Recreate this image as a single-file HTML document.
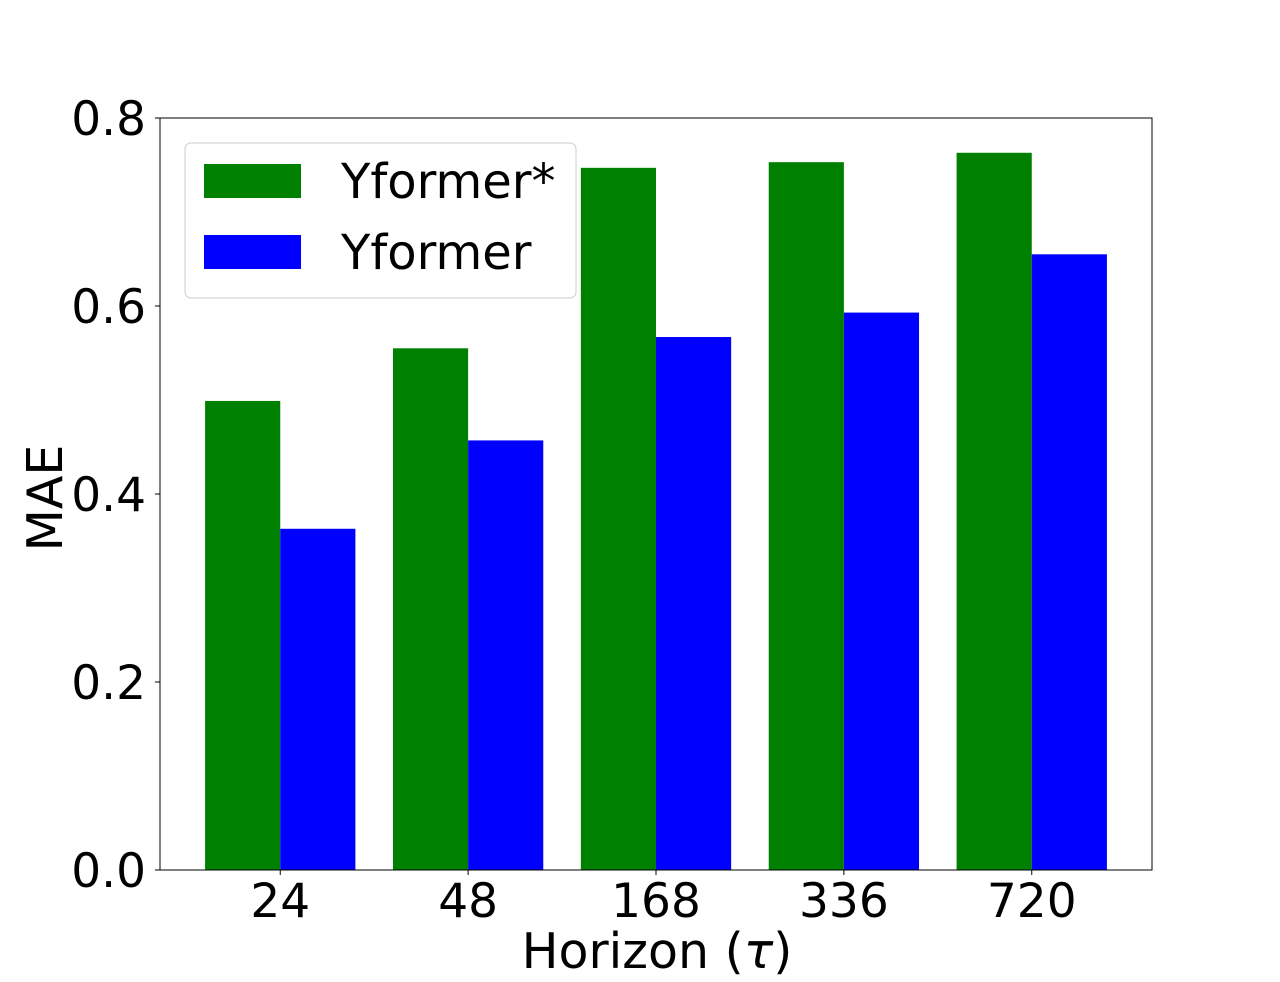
<!DOCTYPE html>
<html><head><meta charset="utf-8"><style>
body{margin:0;background:#fff}
svg text{font-family:"DejaVu Sans","Liberation Sans",sans-serif;fill:#000}
</style></head><body>
<svg width="1280" height="977" xmlns="http://www.w3.org/2000/svg">
<g id="plot"></g>
</svg>
<script>
const categories = ["24","48","168","336","720"];
const yformerStar = [0.499,0.555,0.747,0.753,0.763];
const yformer = [0.363,0.457,0.567,0.593,0.655];
const yTicks = [0.0,0.2,0.4,0.6,0.8];
const yTickLabels = ["0.0","0.2","0.4","0.6","0.8"];

const NS="http://www.w3.org/2000/svg";
const g=document.getElementById('plot');
const L=160,R=1152,T=118,B=870;
const xMin=-0.64,xMax=4.64,yMin=0,yMax=0.8;
const xs=v=>L+(v-xMin)/(xMax-xMin)*(R-L);
const ys=v=>B-(v-yMin)/(yMax-yMin)*(B-T);
function mk(tag,attrs,text){const e=document.createElementNS(NS,tag);for(const k in attrs)e.setAttribute(k,attrs[k]);if(text!==undefined)e.textContent=text;g.appendChild(e);return e;}
const bw=0.4;
categories.forEach((c,i)=>{
  let r=mk('rect',{x:xs(i-bw),y:ys(yformerStar[i]),width:xs(i)-xs(i-bw),height:ys(0)-ys(yformerStar[i]),fill:'#008000'});
  
  
  let r2=mk('rect',{x:xs(i),y:ys(yformer[i]),width:xs(i+bw)-xs(i),height:ys(0)-ys(yformer[i]),fill:'#0000ff'});
  
  
  let t=mk('line',{x1:xs(i),x2:xs(i),y1:B,y2:B+5,stroke:'#000','stroke-width':1});
  
  
  let tl=mk('text',{x:xs(i),y:B+47,'font-size':47,'text-anchor':'middle'},c);
  
  
});
yTicks.forEach((v,i)=>{
  let t=mk('line',{x1:L-5,x2:L,y1:ys(v),y2:ys(v),stroke:'#000','stroke-width':1});
  
  
  let tl=mk('text',{x:L-14,y:ys(v)+17,'font-size':47,'text-anchor':'end'},yTickLabels[i]);
  
  
});
let fr=mk('rect',{x:L,y:T,width:R-L,height:B-T,fill:'none',stroke:'#000','stroke-width':1});


let xl=mk('text',{x:657,y:968,'font-size':49,'text-anchor':'middle'});


const ts1=document.createElementNS(NS,'tspan');ts1.textContent='Horizon (';xl.appendChild(ts1);
const ts2=document.createElementNS(NS,'tspan');ts2.setAttribute('font-style','italic');ts2.textContent='τ';xl.appendChild(ts2);
const ts3=document.createElementNS(NS,'tspan');ts3.textContent=')';xl.appendChild(ts3);
let yl=mk('text',{x:0,y:0,'font-size':49,'text-anchor':'middle',transform:'translate(62,498) rotate(-90)'},'MAE');


let lb=mk('rect',{x:185,y:143,width:391,height:155,rx:6,fill:'#fff','fill-opacity':0.8,stroke:'#ccc','stroke-width':1});


let p1=mk('rect',{x:204,y:164,width:97,height:34,fill:'#008000'});


let t1=mk('text',{x:341,y:198,'font-size':48},'Yformer*');


let p2=mk('rect',{x:204,y:235,width:97,height:34,fill:'#0000ff'});


let t2=mk('text',{x:341,y:269,'font-size':48},'Yformer');


</script>
</body></html>
